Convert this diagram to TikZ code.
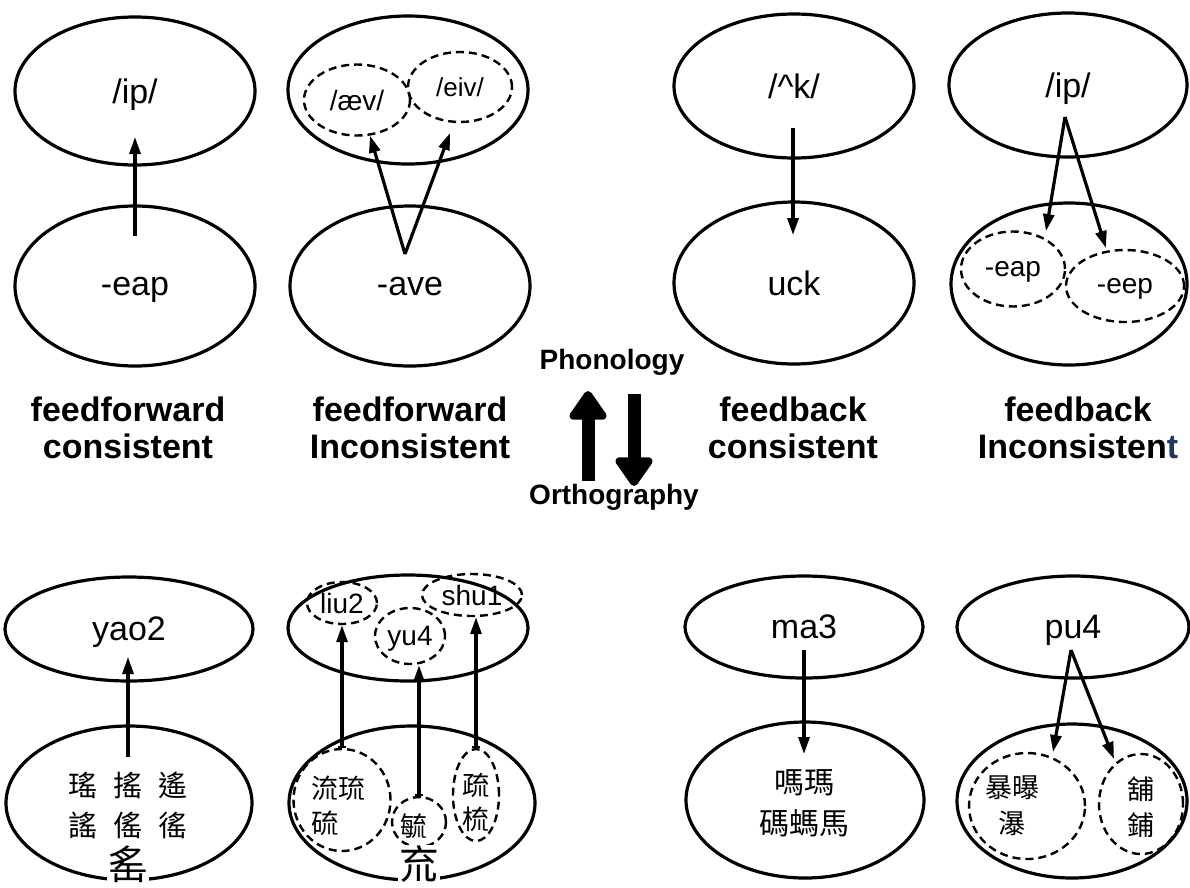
\documentclass[tikz,border=0pt]{standalone}
\usepackage{fontspec}
\setmainfont{Liberation Sans}
\newfontfamily\cjk{Noto Sans CJK TC}
\usetikzlibrary{shapes.geometric,arrows.meta}
\definecolor{tdark}{RGB}{31,56,100}

\begin{document}
\begin{tikzpicture}[x=1pt,y=-1pt,
    oval/.style={draw,ellipse,line width=3.2pt,inner sep=0pt,text depth=0pt,font=\fontsize{34}{40}\selectfont},
    dashoval/.style={draw,ellipse,line width=2.4pt,dash pattern=on 8pt off 5pt,inner sep=0pt,text depth=0pt,font=\fontsize{28}{33}\selectfont},
    conn/.style={line width=3.2pt,-{Triangle[length=17pt,width=11pt]}},
    barconn/.style={conn,{Bar[width=8pt,line width=1.8pt]}-{Triangle[length=17pt,width=11pt]}},
    kind/.style={align=center,font=\bfseries\fontsize{34}{37}\selectfont},
    han/.style={align=center,inner sep=0pt,font=\cjk\fontsize{29}{40}\selectfont},
    radical/.style={fill=white,inner sep=1pt,font=\cjk\fontsize{40}{40}\selectfont},
    big/.style={line width=13pt,line join=round,-{Triangle[round,length=32pt,width=42pt]}}]
  \useasboundingbox (0,0) rectangle (1190,887);

  % English: feedforward
  \node[oval,minimum width=240pt,minimum height=148pt] (ip) at (135,91) {/ip/};
  \node[oval,minimum width=240pt,minimum height=160pt] (eap) at (135,286) {-eap};
  \coordinate (eapt) at (135,236);
  \coordinate (iph) at (135,137);
  \draw[conn] (eapt) -- (iph);

  \node[oval,minimum width=240pt,minimum height=148pt] (avep) at (408,90) {};
  \node[dashoval,minimum width=106pt,minimum height=71pt] (aev) at (357,100) {/æv/};
  \node[dashoval,minimum width=104pt,minimum height=70pt,font=\fontsize{26}{30}\selectfont] (eiv) at (460,87) {/eiv/};
  \node[oval,minimum width=240pt,minimum height=160pt] (ave) at (410,286) {-ave};
  \coordinate (avet) at (405,254);
  \coordinate (eivh) at (450,133);
  \draw[conn] (avet) -- (aev.-70);
  \draw[conn] (avet) -- (eivh);

  % English: feedback
  \node[oval,minimum width=240pt,minimum height=144pt] (uhk) at (794,86) {/\textasciicircum k/};
  \node[oval,minimum width=240pt,minimum height=162pt] (uck) at (794,283) {uck};
  \coordinate (uhkt) at (793,128);
  \coordinate (uckh) at (793,235);
  \draw[conn] (uhkt) -- (uckh);

  \node[oval,minimum width=238pt,minimum height=144pt] (ipb) at (1068,85) {/ip/};
  \node[oval,minimum width=236pt,minimum height=162pt] (eepb) at (1069,284) {};
  \node[dashoval,minimum width=104pt,minimum height=75pt] (eapd) at (1013,269) {-eap};
  \node[dashoval,minimum width=118pt,minimum height=72pt] (eepd) at (1125,286) {-eep};
  \coordinate (ipbt) at (1065,117);
  \coordinate (eapdh) at (1046,231);
  \coordinate (eepdh) at (1106,248);
  \draw[conn] (ipbt) -- (eapdh);
  \draw[conn] (ipbt) -- (eepdh);

  % labels
  \node[kind] (ffc) at (128,428) {feedforward\\consistent};
  \node[kind] (ffi) at (410,428) {feedforward\\Inconsistent};
  \node[kind] (fbc) at (793,428) {feedback\\consistent};
  \node[kind] (fbi) at (1078,428) {feedback\\Inconsisten\textcolor{tdark}{t}};

  \node[font=\bfseries\fontsize{28}{32}\selectfont] (phon) at (612,362) {Phonology};
  \node[font=\bfseries\fontsize{28}{32}\selectfont] (orth) at (614,497) {Orthography};
  \coordinate (upt) at (588,481);
  \coordinate (uph) at (588,391);
  \coordinate (dnt) at (634,394);
  \coordinate (dnh) at (634,486);
  \draw[big] (upt) -- (uph);
  \draw[big] (dnt) -- (dnh);

  % Chinese: feedforward
  \node[oval,minimum width=248pt,minimum height=104pt] (yao) at (129,629) {yao2};
  \node[oval,minimum width=246pt,minimum height=154pt] (yaoc) at (129,803) {};
  \node[han] (yaoz) at (128,805) {瑤\hspace{16pt}搖\hspace{16pt}遙\\謠\hspace{16pt}傜\hspace{16pt}徭};
  \node[radical] (yaor) at (128,864) {䍃};
  \coordinate (yaot) at (128,757);
  \coordinate (yaoh) at (128,657);
  \draw[conn] (yaot) -- (yaoh);

  \node[oval,minimum width=240pt,minimum height=106pt] (liup) at (408,628) {};
  \node[dashoval,minimum width=70pt,minimum height=42pt] (liu) at (342,603) {liu2};
  \node[dashoval,minimum width=70pt,minimum height=56pt] (yu) at (410,636) {yu4};
  \node[dashoval,minimum width=100pt,minimum height=42pt] (shu) at (472,595) {shu1};
  \node[oval,minimum width=246pt,minimum height=154pt] (liuc) at (412,803) {};
  \node[dashoval,minimum width=97pt,minimum height=102pt] (liug) at (342,800) {};
  \node[han,align=left,font=\cjk\fontsize{27}{35}\selectfont] (liuz) at (338,806) {流琉\\硫};
  \node[dashoval,minimum width=54pt,minimum height=50pt] (yug) at (419,822) {};
  \node[han,font=\cjk\fontsize{27}{35}\selectfont] (yuz) at (414,826) {毓};
  \node[dashoval,minimum width=46pt,minimum height=92pt] (shug) at (476,795) {};
  \node[han,font=\cjk\fontsize{27}{34}\selectfont] (shuz) at (476,802) {疏\\梳};
  \node[radical] (liur) at (419,864) {㐬};
  \draw[barconn] (liug.north) -- (liu.south);
  \draw[barconn] (yug.north) -- (yug.north |- yu.south);
  \draw[barconn] (shug.north) -- (shug.north |- shu.south);

  % Chinese: feedback
  \node[oval,minimum width=238pt,minimum height=102pt] (ma) at (804,627) {ma3};
  \node[oval,minimum width=238pt,minimum height=156pt] (mac) at (805,800) {};
  \node[han,font=\cjk\fontsize{30}{41}\selectfont] (maz) at (804,803) {嗎瑪\\碼螞馬};
  \coordinate (mat) at (804,650);
  \coordinate (mah) at (804,754);
  \draw[conn] (mat) -- (mah);

  \node[oval,minimum width=232pt,minimum height=102pt] (pu) at (1073,627) {pu4};
  \node[oval,minimum width=230pt,minimum height=154pt] (puc) at (1072,801) {};
  \node[dashoval,minimum width=116pt,minimum height=106pt] (bao) at (1027,806) {};
  \node[han,font=\cjk\fontsize{27}{36}\selectfont] (baoz) at (1012,806) {暴曝\\瀑};
  \node[dashoval,minimum width=84pt,minimum height=100pt] (pug) at (1141,804) {};
  \node[han,font=\cjk\fontsize{27}{36}\selectfont] (puz) at (1141,807) {舖\\鋪};
  \coordinate (put) at (1071,650);
  \coordinate (baoh) at (1053,752);
  \coordinate (pugh) at (1114,759);
  \draw[conn] (put) -- (baoh);
  \draw[conn] (put) -- (pugh);
\end{tikzpicture}
\end{document}
